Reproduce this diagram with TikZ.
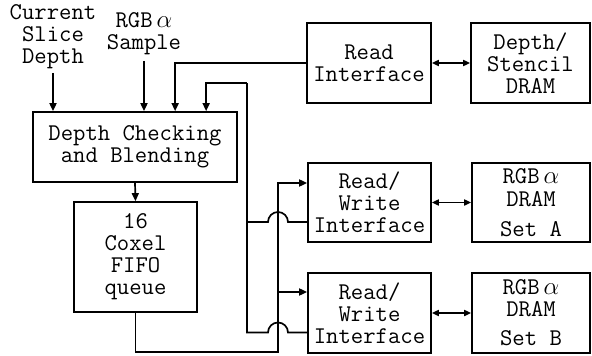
\documentclass[tikz,border=0pt]{standalone}
\usetikzlibrary{arrows.meta,calc}
\begin{document}
\begin{tikzpicture}[x=1pt,y=-1pt, line width=1.7pt,
  box/.style={draw, inner sep=0pt, align=center, font=\ttfamily\fontsize{24}{22}\selectfont},
  lbl/.style={inner sep=0pt, align=center, font=\ttfamily\fontsize{24}{22}\selectfont},
  arr/.style={-{Triangle[length=8pt,width=7pt]}},
  dbl/.style={{Triangle[length=7pt,width=6pt]}-{Triangle[length=7pt,width=6pt]}}]
\useasboundingbox (0,0) rectangle (592,356);

\node[box, minimum width=204pt, minimum height=70pt] (dcb) at (135,147) {Depth Checking\\and Blending};
\node[box, minimum width=123pt, minimum height=110pt] (fifo) at (135.5,257) {16\\Coxel\\FIFO\\queue};
\node[box, minimum width=124pt, minimum height=80pt] (ri) at (369,63) {Read\\Interface};
\node[box, minimum width=119pt, minimum height=80pt] (ds) at (530.5,63) {Depth/\\Stencil\\DRAM};
\node[box, minimum width=123pt, minimum height=79pt] (rwa) at (369.5,202.5) {Read/\\Write\\Interface};
\node[box, minimum width=123pt, minimum height=80pt] (rwb) at (369.5,313) {Read/\\Write\\Interface};
\node[box, minimum width=118pt, minimum height=79pt] (dra) at (531,202.5) {RGB\,$\alpha$\\[1pt]DRAM\\[8pt]Set A};
\node[box, minimum width=118pt, minimum height=80pt] (drb) at (531,313) {RGB\,$\alpha$\\[0pt]DRAM\\[7pt]Set B};

\node[lbl, inner ysep=3pt] (csd) at (53,37) {Current\\Slice\\Depth};
\node[lbl, inner ysep=5pt] (rgbs) at (144,34) {RGB\,$\alpha$\\Sample};

\coordinate (rb) at (247,83);
\coordinate (fb) at (278,352);

\draw[arr] (csd.south) -- (csd.south |- dcb.north);
\draw[arr] (rgbs.south) -- (rgbs.south |- dcb.north);
\draw[arr] (ri.west) -| ($(dcb.north west)+(143,0)$);
\draw[arr] (dcb.south) -- (fifo.north);

% return bus from read/write interfaces
\draw ($(rwa.west)+(0,19.5)$) -- ($(fb |- rwa.west)+(10,19.5)$)
      arc[start angle=0,end angle=-180,radius=10]
      -- ($(rb |- rwa.west)+(0,19.5)$) -- (rb);
\draw ($(rwb.west)+(0,19.5)$) -- ($(fb |- rwb.west)+(10,19.5)$)
      arc[start angle=0,end angle=-180,radius=10]
      -- ($(rb |- rwb.west)+(0,19.5)$) -- (rb);
\draw[arr] (rb) -| ($(dcb.north west)+(174,0)$);

% FIFO output bus
\draw[arr] (fifo.south) |- (fb) |- ($(rwa.west)+(0,-19.5)$);
\draw[arr] ($(fb |- rwb.west)+(0,-21)$) -- ($(rwb.west)+(0,-21)$);

\draw[dbl] (ri.east) -- (ds.west);
\draw[dbl] (rwa.east) -- (dra.west);
\draw[dbl] (rwb.east) -- (drb.west);
\end{tikzpicture}
\end{document}
